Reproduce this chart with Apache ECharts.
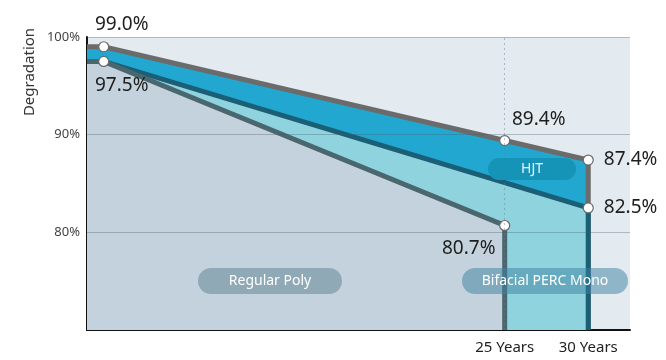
<!DOCTYPE html>
<html><head><meta charset="utf-8">
<script src="https://cdn.jsdelivr.net/npm/echarts@6/dist/echarts.min.js"></script>
<style>html,body{margin:0;padding:0;background:#fff}#c{width:666px;height:360px}</style>
</head><body><div id="c"></div>
<script>
// ---- data ----
const yTicks = [80, 90, 100];
const xTickYears = [25, 30];
const hjtYears = [0, 1, 25, 30];
const hjtValues = [99.0, 99.0, 89.4, 87.4];
const percYears = [0, 1, 30];
const percValues = [97.5, 97.5, 82.5];
const polyYears = [0, 1, 25];
const polyValues = [97.5, 97.5, 80.7];
const seriesNames = ['HJT', 'Bifacial PERC Mono', 'Regular Poly'];

const Y_MIN = 70, Y_MAX = 100;
const FONT = "'Noto Sans', 'Open Sans', sans-serif";

function build(years, values, labels) {
  const d = years.map((x, i) => {
    const item = { value: [x, values[i]] };
    if (labels[i]) {
      item.symbol = 'circle';
      item.symbolSize = 10;
      item.label = Object.assign({
        show: true, formatter: values[i].toFixed(1) + '%',
        fontSize: 19, color: '#1e1e1e', fontFamily: FONT
      }, labels[i]);
    } else {
      item.symbol = 'none';
    }
    return item;
  });
  d.push({ value: [years[years.length - 1], Y_MIN], symbol: 'none' });
  return d;
}

const pointStyle = { color: '#ffffff', borderColor: '#6a6a6a', borderWidth: 1.2 };

function pill(cx, cy, w, h, fill, text, textFill) {
  return { type: 'group', x: cx, y: cy, z: 100, zlevel: 1, children: [
    { type: 'rect', z: 100, zlevel: 1, shape: { x: -w / 2, y: -h / 2, width: w, height: h, r: h / 2 }, style: { fill: fill } },
    { type: 'text', z: 101, zlevel: 1, style: { text: text, fontSize: 14, fill: textFill, align: 'center', verticalAlign: 'middle', fontFamily: FONT } }
  ]};
}

const chart = echarts.init(document.getElementById('c'), null, { renderer: 'canvas' });
chart.setOption({
  animation: false,
  textStyle: { fontFamily: FONT },
  grid: { left: 87, right: 36, top: 37, bottom: 30, show: true, backgroundColor: '#e3eaf0', borderWidth: 0, containLabel: false, outerBoundsMode: 'none' },
  xAxis: {
    type: 'value', min: 0, max: 32.5,
    axisLine: { show: true, onZero: false, lineStyle: { color: '#111', width: 2 } },
    axisTick: { show: false }, splitLine: { show: false },
    axisLabel: { customValues: xTickYears, formatter: v => v + ' Years', color: '#222', fontSize: 15, margin: 10, fontFamily: FONT }
  },
  yAxis: {
    type: 'value', min: Y_MIN, max: Y_MAX, interval: 10,
    axisLine: { show: true, lineStyle: { color: '#111', width: 2 } },
    axisTick: { show: false }, splitLine: { show: false },
    axisLabel: { customValues: yTicks, formatter: v => v + '%', color: '#444', fontSize: 13, margin: 7, fontFamily: FONT }
  },
  series: [
    {
      name: seriesNames[0], type: 'line', z: 2, silent: true, showSymbol: true,
      data: build(hjtYears, hjtValues, {
        1: { position: 'top', distance: 7, offset: [18, 0] },
        2: { position: 'top', distance: 6, offset: [34, 0] },
        3: { position: 'right', distance: 10 }
      }),
      lineStyle: { color: '#6b6b6b', width: 5, join: 'miter' },
      areaStyle: { color: '#22a8d0', opacity: 1, origin: 'start' },
      itemStyle: pointStyle
    },
    {
      name: seriesNames[1], type: 'line', z: 3, silent: true, showSymbol: true,
      data: build(percYears, percValues, {
        2: { position: 'right', distance: 10 }
      }),
      lineStyle: { color: '#1a5f76', width: 5, join: 'miter' },
      areaStyle: { color: '#8fd3df', opacity: 1, origin: 'start' },
      itemStyle: pointStyle
    },
    {
      name: seriesNames[2], type: 'line', z: 4, silent: true, showSymbol: true,
      data: build(polyYears, polyValues, {
        1: { position: 'bottom', distance: 9, offset: [18, 0] },
        2: { position: 'bottom', distance: 8, offset: [-36, 0] }
      }),
      lineStyle: { color: '#4a666e', width: 5, join: 'miter' },
      areaStyle: { color: '#c3d2dc', opacity: 1, origin: 'start' },
      itemStyle: pointStyle,
      markLine: {
        silent: true, symbol: ['none', 'none'], label: { show: false }, animation: false,
        lineStyle: { color: 'rgba(70,95,110,0.35)', width: 1, type: 'solid' },
        data: yTicks.map(v => ({ yAxis: v })).concat([
          { xAxis: xTickYears[0], lineStyle: { color: 'rgba(90,125,140,0.45)', width: 1, type: [2, 3] } }
        ])
      }
    }
  ],
  graphic: [
    { type: 'text', x: 30, y: 72, rotation: Math.PI / 2, z: 100,
      style: { text: 'Degradation', fontSize: 15, fill: '#333', align: 'center', verticalAlign: 'middle', fontFamily: FONT } },
    pill(270, 281, 144, 26, '#8fa9b6', seriesNames[2], '#ffffff'),
    pill(545, 281, 166, 26, 'rgba(60,130,160,0.5)', seriesNames[1], '#ffffff'),
    pill(532, 169, 88, 22, '#1594b8', seriesNames[0], '#e8f6fb')
  ]
});
</script>
</body></html>
